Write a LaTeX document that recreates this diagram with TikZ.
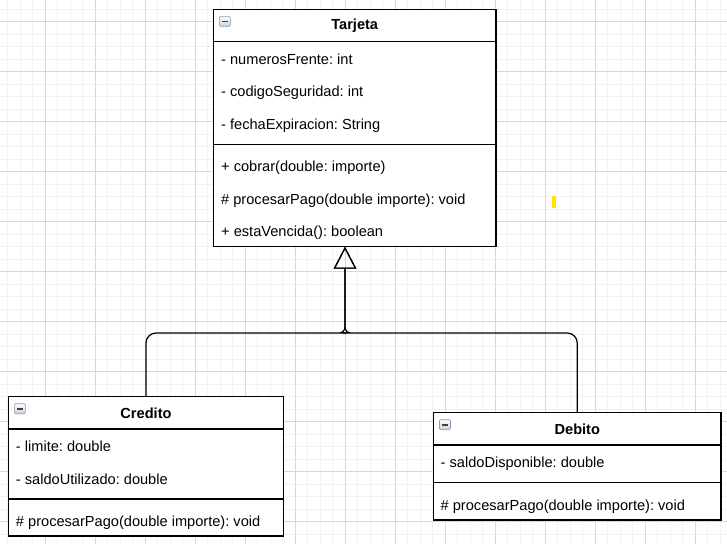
\documentclass[tikz,border=0pt]{standalone}
\usepackage{fontspec}
\setmainfont{Liberation Sans}
\usetikzlibrary{arrows.meta,calc}
\definecolor{gridminor}{HTML}{F2F2F2}
\definecolor{gridmajor}{HTML}{D8D8D8}
\definecolor{markyellow}{HTML}{FFE400}
\definecolor{iconedge}{HTML}{8A9AAE}
\frenchspacing
\begin{document}
\frenchspacing
\begin{tikzpicture}[x=1pt,y=-1pt,
  umlbox/.style={draw=black, line width=1.2pt, fill=white, rectangle, inner sep=0pt, outer sep=0pt, anchor=north west},
  member/.style={anchor=base west, inner sep=0pt, font=\fontsize{14.6}{17}\selectfont\frenchspacing},
  classtitle/.style={inner sep=0pt, font=\bfseries\fontsize{14.6}{17}\selectfont},
  sepline/.style={line width=1.2pt},
  minorgrid/.style={draw=gridminor, line width=0.9pt},
  majorgrid/.style={draw=gridmajor, line width=0.9pt},
  edge/.style={line width=1.2pt, -{Triangle[open,length=22pt,width=22.5pt]}},
  minusicon/.pic={
    \shade[top color=white, bottom color=iconedge!45, draw=iconedge, line width=0.6pt, rounded corners=1.2pt] (0,0) rectangle (11,10);
    \draw[line width=1.4pt, black!75] (2.8,5.2) -- (8.2,5.2);
  }]
\useasboundingbox (0,0) rectangle (727,544);
\fill[white] (0,0) rectangle (727,544);
% grid
\foreach \i in {0,...,57} \draw[minorgrid] ({7.5+12.5*\i},0) -- ({7.5+12.5*\i},544);
\foreach \i in {0,...,42} \draw[minorgrid] (0,{9.2+12.5*\i}) -- (727,{9.2+12.5*\i});
\foreach \i in {1,...,14} \draw[majorgrid] ({-5+50*\i},0) -- ({-5+50*\i},544);
\foreach \i in {0,...,10} \draw[majorgrid] (0,{21.7+50*\i}) -- (727,{21.7+50*\i});
% yellow mark
\fill[markyellow] (552,196) rectangle (556,208);

% Tarjeta
\node[umlbox, minimum width=282.7pt, minimum height=237.4pt] (tarj) at (213.3,9.3) {};
\pic at ($(tarj.north west)+(6,7)$) {minusicon};
\node[classtitle] (tarjT) at (354.7,25.8) {Tarjeta};
\draw[sepline] (213.3,41.7) -- (496,41.7);
\draw[sepline] (213.3,144.3) -- (496,144.3);
\node[member] (t1) at (221,64.6) {- numerosFrente: int};
\node[member] (t2) at (221,96) {- codigoSeguridad: int};
\node[member] (t3) at (221,129.3) {- fechaExpiracion: String};
\node[member] (t4) at (221,171) {+ cobrar(double: importe)};
\node[member] (t5) at (221,204.3) {\# procesarPago(double importe): void};
\node[member] (t6) at (221,236) {+ estaVencida(): boolean};

% Credito
\node[umlbox, minimum width=275.4pt, minimum height=139.3pt] (cred) at (8.3,396.7) {};
\pic at ($(cred.north west)+(6,7)$) {minusicon};
\node[classtitle] (credT) at (146,413.5) {Credito};
\draw[sepline] (8.3,429) -- (283.7,429);
\draw[sepline] (8.3,499) -- (283.7,499);
\node[member] (c1) at (15.8,451.3) {- limite: double};
\node[member] (c2) at (15.8,484.3) {- saldoUtilizado: double};
\node[member] (c3) at (15.8,526.3) {\# procesarPago(double importe): void};

% Debito
\node[umlbox, minimum width=287.5pt, minimum height=107.3pt] (deb) at (433.5,412.7) {};
\pic at ($(deb.north west)+(6,7)$) {minusicon};
\node[classtitle] (debT) at (577.3,429.5) {Debito};
\draw[sepline] (433.5,445) -- (721,445);
\draw[sepline] (433.5,482.7) -- (721,482.7);
\node[member] (d1) at (440.5,467) {- saldoDisponible: double};
\node[member] (d2) at (440.5,510.3) {\# procesarPago(double importe): void};

% generalization connectors
\coordinate (j) at (345,333);
\draw[edge] (cred.north) [rounded corners=10pt] |- ($(j)+(-8,0)$) [rounded corners=6pt] -- (j) -- (j |- tarj.south);
\draw[edge] (deb.north) [rounded corners=10pt] |- ($(j)+(8,0)$) [rounded corners=6pt] -- (j) -- (j |- tarj.south);
\end{tikzpicture}
\end{document}
